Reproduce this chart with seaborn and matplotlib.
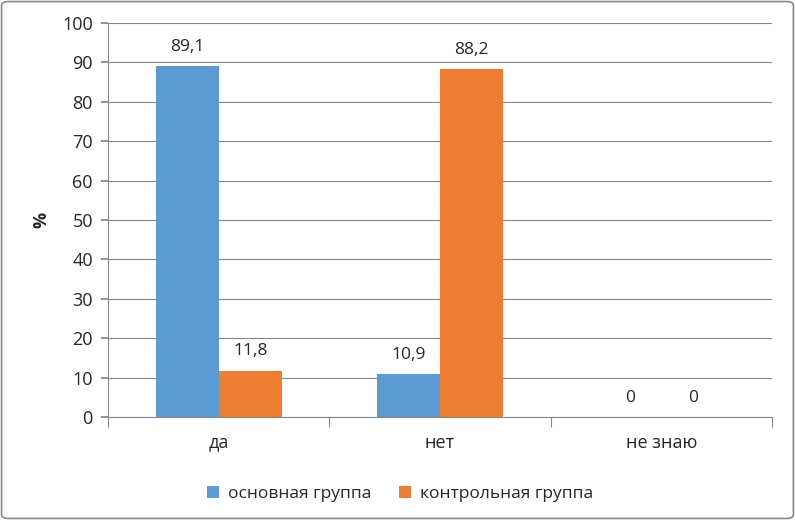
import matplotlib
matplotlib.use("Agg")
import matplotlib.pyplot as plt
import seaborn as sns
import pandas as pd
from matplotlib.patches import FancyBboxPatch

# data
categories = ["да", "нет", "не знаю"]
groups = ["основная группа", "контрольная группа"]
main_vals = [89.1, 10.9, 0]
ctrl_vals = [11.8, 88.2, 0]

df = pd.DataFrame({
    "answer": categories * 2,
    "group": [groups[0]] * 3 + [groups[1]] * 3,
    "value": main_vals + ctrl_vals,
})

sns.set_theme(style="white")
plt.rcParams["font.family"] = ["Open Sans", "DejaVu Sans"]

fig = plt.figure(figsize=(7.95, 5.2), dpi=100)
ax = fig.add_axes([0.136, 0.198, 0.835, 0.758])

grid_c = "#868686"
sns.barplot(data=df, x="answer", y="value", hue="group", order=categories,
            hue_order=groups, palette=["#5B9BD5", "#ED7D31"], width=0.57,
            saturation=1, linewidth=0, ax=ax, legend=True)

for cont in ax.containers:
    labs = [f"{b.get_height():.1f}".replace(".", ",").replace(",0", "") for b in cont]
    ax.bar_label(cont, labels=labs, padding=8, fontsize=12.5)

ax.set_ylim(0, 100)
ax.set_xlim(-0.5, 2.5)
ax.set_yticks(range(0, 101, 10))
ax.yaxis.grid(True, color=grid_c, linewidth=0.8)
ax.set_axisbelow(True)
ax.set_xlabel("")
ax.set_ylabel("%", fontsize=13, fontweight="bold", labelpad=8)

for s in ["top", "right"]:
    ax.spines[s].set_visible(False)
for s in ["left", "bottom"]:
    ax.spines[s].set_color(grid_c)
    ax.spines[s].set_linewidth(0.8)

ax.tick_params(axis="y", left=True, length=5, color=grid_c, labelsize=13, pad=6)
ax.tick_params(axis="x", which="major", length=0, labelsize=13, pad=12)
ax.set_xticks([-0.5, 0.5, 1.5, 2.5], minor=True)
ax.tick_params(axis="x", which="minor", bottom=True, length=7, color=grid_c, width=0.8)

ax.legend(loc="upper center", bbox_to_anchor=(0.44, -0.135), ncol=2, frameon=False,
          fontsize=12.5, handlelength=0.7, handleheight=0.7, handletextpad=0.5,
          columnspacing=1.6)

border = FancyBboxPatch((0.002, 0.003), 0.996, 0.994, boxstyle="round,pad=0,rounding_size=0.008",
                        transform=fig.transFigure, fill=False, edgecolor="#888888", linewidth=1.2)
fig.patches.append(border)

fig.savefig("out.png", dpi=100)
